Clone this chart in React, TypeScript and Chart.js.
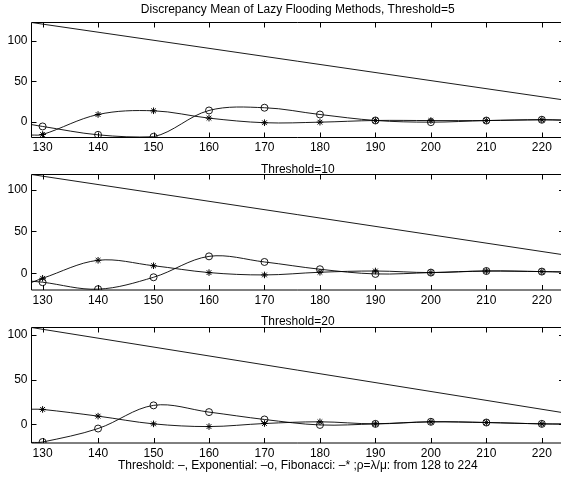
import React, { useEffect, useRef } from "react";
import { Chart, registerables } from "chart.js";

Chart.register(...registerables);

// ---- data ----
const rho = [130, 140, 150, 160, 170, 180, 190, 200, 210, 220];
const rhoEdges = [128, 224];
const xTicks = [130, 140, 150, 160, 170, 180, 190, 200, 210, 220];
const yTicks = [0, 50, 100];

const panelTitles = [
  "Discrepancy Mean of Lazy Flooding Methods, Threshold=5",
  "Threshold=10",
  "Threshold=20",
];
const xLabel = "Threshold: \u2013, Exponential: \u2013o, Fibonacci: \u2013* ;\u03c1=\u03bb/\u03bc: from 128 to 224";

// threshold lines at rho=128 and rho=224
const thr5 = [123, 27];
const thr10 = [118, 22];
const thr20 = [108, 13];

// Exponential (circles)
const exp5 = [-5.8, -16.2, -18.6, 14, 17.4, 9, 1.6, -0.5, 1.5, 2.5];
const exp5Edges = [-3.5, 2];
const exp10 = [-10.7, -19, -4.8, 20.2, 13.5, 4.8, -0.8, 0.8, 2.7, 2];
const exp10Edges = [-9.5, 1.5];
const exp20 = [-19.5, -4.5, 21.3, 13.8, 5.6, -0.5, 0.7, 3, 2.2, 0.7];
const exp20Edges = [-20, 0.5];

// Fibonacci (stars)
const fib5 = [-15.8, 9, 13.6, 4.5, -1.2, -0.5, 1.6, 1.5, 1.5, 2.5];
const fib5Edges = [-16.5, 2];
const fib10 = [-6, 15.5, 9, 0.8, -2, 1.2, 2.7, 0.8, 2.7, 2];
const fib10Edges = [-11, 1.5];
const fib20 = [16.8, 9.3, 0.7, -2.3, 1.1, 3, 0.7, 3, 2.2, 0.7];
const fib20Edges = [17, 0.5];

// y ranges (axis tight)
const yMins = [-19.5, -20, -20.6];
const yMaxs = [123, 118, 108];

// ---- layout ----
const W = 565;
const H = 479;
const layouts = [
  { top: 22.5, bottom: 137.5, titleY: 9.5 },
  { top: 174.5, bottom: 290, titleY: 169.5 },
  { top: 327.5, bottom: 443, titleY: 322, xlabelY: 465.7 },
];
const FONT = "'Liberation Sans', Arial, Helvetica, sans-serif";
const TICK_SIZE = 12;
const TITLE_SIZE = 12;

const panelData = [
  { thr: thr5, exp: exp5, expE: exp5Edges, fib: fib5, fibE: fib5Edges },
  { thr: thr10, exp: exp10, expE: exp10Edges, fib: fib10, fibE: fib10Edges },
  { thr: thr20, exp: exp20, expE: exp20Edges, fib: fib20, fibE: fib20Edges },
];

function series(vals: number[], edges: number[]) {
  return [
    { x: rhoEdges[0], y: edges[0] },
    ...rho.map((x, i) => ({ x, y: vals[i] })),
    { x: rhoEdges[1], y: edges[1] },
  ];
}
const radii = (r: number) => [0, ...rho.map(() => r), 0];

const framePlugin = {
  id: "frame",
  afterDraw(chart: any, _args: any, opts: any) {
    const { ctx, chartArea: a, scales } = chart;
    ctx.save();
    ctx.strokeStyle = "#000";
    ctx.lineWidth = 1;
    ctx.beginPath();
    ctx.rect(a.left, a.top, a.right - a.left, a.bottom - a.top);
    const tl = 5;
    for (const v of xTicks) {
      const px = Math.round(scales.x.getPixelForValue(v)) + 0.5;
      ctx.moveTo(px, a.top);
      ctx.lineTo(px, a.top + tl);
      ctx.moveTo(px, a.bottom);
      ctx.lineTo(px, a.bottom - tl);
    }
    for (const v of yTicks) {
      const py = Math.round(scales.y.getPixelForValue(v)) + 0.5;
      ctx.moveTo(a.left, py);
      ctx.lineTo(a.left + tl, py);
      ctx.moveTo(a.right, py);
      ctx.lineTo(a.right - tl, py);
    }
    ctx.stroke();
    ctx.fillStyle = "#000";
    ctx.font = `${TITLE_SIZE}px ${FONT}`;
    ctx.textAlign = "center";
    ctx.textBaseline = "middle";
    const cx = (a.left + a.right) / 2;
    ctx.fillText(opts.title, cx, opts.titleY);
    if (opts.xlabel) ctx.fillText(opts.xlabel, cx, opts.xlabelY);
    ctx.restore();
  },
};

function makeChart(canvas: HTMLCanvasElement, i: number) {
  const d = panelData[i];
  const L = layouts[i];
  const xAxisH = 20;
  return new Chart(canvas, {
    type: "line",
    data: {
      datasets: [
        {
          data: [
            { x: rhoEdges[0], y: d.thr[0] },
            { x: rhoEdges[1], y: d.thr[1] },
          ],
          borderColor: "#000",
          borderWidth: 0.9,
          pointRadius: 0,
          tension: 0,
        },
        {
          data: series(d.exp, d.expE),
          borderColor: "#000",
          borderWidth: 0.9,
          pointStyle: "circle",
          pointRadius: radii(3.5),
          pointBorderColor: "#000",
          pointBackgroundColor: "rgba(0,0,0,0)",
          pointBorderWidth: 0.9,
          tension: 0.35,
        },
        {
          data: series(d.fib, d.fibE),
          borderColor: "#000",
          borderWidth: 0.9,
          pointStyle: "star",
          pointRadius: radii(3.3),
          pointBorderColor: "#000",
          pointBackgroundColor: "#000",
          pointBorderWidth: 1,
          tension: 0.35,
        },
      ],
    },
    options: {
      animation: false,
      responsive: false,
      devicePixelRatio: 1,
      layout: {
        padding: { left: 0, right: 1, top: L.top, bottom: H - L.bottom - xAxisH },
      },
      plugins: {
        legend: { display: false },
        tooltip: { enabled: false },
        title: { display: false },
        // @ts-ignore
        frame: { title: panelTitles[i], titleY: L.titleY, xlabel: i === 2 ? xLabel : null, xlabelY: (L as any).xlabelY },
      },
      scales: {
        x: {
          type: "linear",
          min: rhoEdges[0],
          max: rhoEdges[1],
          grid: { display: false, drawTicks: false, tickLength: 0 },
          border: { display: false },
          afterBuildTicks: (s: any) => {
            s.ticks = xTicks.map((v) => ({ value: v }));
          },
          afterFit: (s: any) => {
            s.height = xAxisH;
          },
          ticks: {
            color: "#000",
            font: { family: FONT, size: TICK_SIZE },
            padding: 3,
            maxRotation: 0,
            autoSkip: false,
          },
        },
        y: {
          type: "linear",
          min: yMins[i],
          max: yMaxs[i],
          grid: { display: false, drawTicks: false, tickLength: 0 },
          border: { display: false },
          afterBuildTicks: (s: any) => {
            s.ticks = yTicks.map((v) => ({ value: v }));
          },
          afterFit: (s: any) => {
            s.width = 31.5;
          },
          ticks: {
            color: "#000",
            font: { family: FONT, size: TICK_SIZE },
            padding: 4,
          },
        },
      },
    },
    plugins: [framePlugin as any],
  } as any);
}

export default function App() {
  const r0 = useRef<HTMLCanvasElement>(null);
  const r1 = useRef<HTMLCanvasElement>(null);
  const r2 = useRef<HTMLCanvasElement>(null);
  useEffect(() => {
    const charts = [r0, r1, r2].map((r, i) => makeChart(r.current as HTMLCanvasElement, i));
    return () => charts.forEach((c) => c.destroy());
  }, []);
  const cs: React.CSSProperties = {
    position: "absolute",
    left: 0,
    top: 0,
    width: W + "px",
    height: H + "px",
  };
  return (
    <div
      style={{
        position: "fixed",
        left: 0,
        top: 0,
        width: "561px",
        height: "479px",
        overflow: "hidden",
        background: "#fff",
      }}
    >
      <canvas ref={r0} width={W} height={H} style={cs} />
      <canvas ref={r1} width={W} height={H} style={cs} />
      <canvas ref={r2} width={W} height={H} style={cs} />
    </div>
  );
}
